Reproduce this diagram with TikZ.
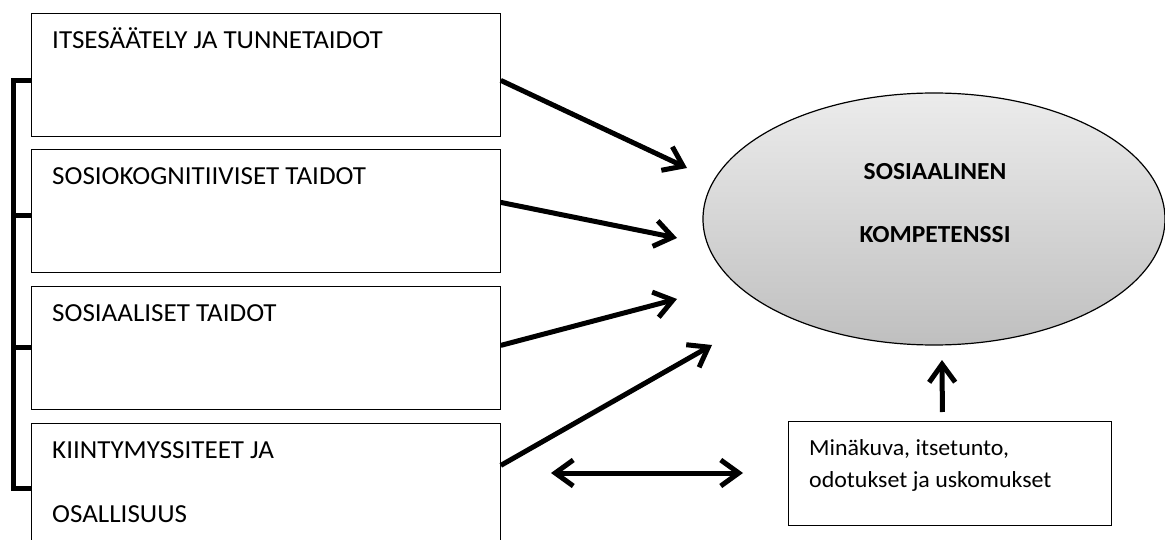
\documentclass[tikz,border=0pt]{standalone}
\usepackage{fontspec}
\setmainfont{Carlito}[FakeStretch=1.04]
\usetikzlibrary{shapes.geometric,arrows.meta}

\begin{document}
\begin{tikzpicture}[x=1pt,y=-1pt]

\tikzstyle{every node}=[font=\fontsize{26}{32}\selectfont]
\tikzstyle{skillbox}=[draw, anchor=north west, minimum width=469, minimum height=123, inner sep=0, line width=0.8]
\tikzstyle{boxtext}=[anchor=base west, inner sep=0]
\tikzstyle{thickarrow}=[->, >={Straight Barb[length=18pt,width=26pt]}, line width=5]

\useasboundingbox (0,0) rectangle (1165,540);

\pgfmathsetmacro\x{31}
\pgfmathsetmacro\y{13}

\node[skillbox] (itse_box) at (\x,\y) {};
\node[boxtext] (itse) at (\x+21,\y+36) {ITSESÄÄTELY JA TUNNETAIDOT};

\pgfmathsetmacro\y{\y+136.5}
\node[skillbox] (sosk_box) at (\x,\y) {};
\node[boxtext] (sosk) at (\x+21,\y+35) {SOSIOKOGNITIIVISET TAIDOT};

\pgfmathsetmacro\y{\y+136.5}
\node[skillbox] (sosi_box) at (\x,\y) {};
\node[boxtext] (sosi) at (\x+21,\y+35) {SOSIAALISET TAIDOT};

\pgfmathsetmacro\y{\y+136.5}
\node[skillbox] (kiin_box) at (\x,\y) {};
\node[boxtext] (kiin) at (\x+21,\y+36) {KIINTYMYSSITEET JA};
\node[boxtext] (osal) at (\x+21,\y+100) {OSALLISUUS};

% bracket on the left
\draw[line width=5] ([yshift=-5.5]itse_box.west) -- ++(-18,0) |- ([yshift=-4]kiin_box.west);
\draw[line width=5] ([yshift=-4]sosk_box.west) -- ++(-18,0);
\draw[line width=5] (sosi_box.west) -- ++(-18,0);

% competence
\node[ellipse, draw, line width=1.2, minimum width=462, minimum height=252, inner sep=0,
      top color=gray!15, bottom color=gray!50] (komp) at (934,219) {};
\node[anchor=base, font=\fontsize{24.5}{32}\selectfont\bfseries] (komp1) at (935,180) {SOSIAALINEN};
\node[anchor=base, font=\fontsize{24.5}{32}\selectfont\bfseries] (komp2) at (935,243) {KOMPETENSSI};

\node[draw, anchor=north west, minimum width=323, minimum height=104, inner sep=0, line width=0.8] (mina_box) at (788,421) {};
\node[boxtext, font=\fontsize{23}{32}\selectfont] (mina1) at (809,455) {Minäkuva, itsetunto,};
\node[boxtext, font=\fontsize{23}{32}\selectfont] (mina2) at (809,487) {odotukset ja uskomukset};

\coordinate (tip_itse) at (687,168);
\coordinate (tip_sosk) at (677,238);
\coordinate (tip_sosi) at (677,299);
\coordinate (tip_kiin) at (712,345);
\coordinate (tip_mina) at (942,360);
\coordinate (dbl_l) at (551,473);
\coordinate (dbl_r) at (743,473);

\draw[thickarrow] ([yshift=-5.5]itse_box.east) -- (tip_itse);
\draw[thickarrow] ([yshift=9]sosk_box.east) -- (tip_sosk);
\draw[thickarrow] ([yshift=2.5]sosi_box.east) -- (tip_sosi);
\draw[thickarrow] ([yshift=19]kiin_box.east) -- (tip_kiin);
\draw[thickarrow] ([xshift=-7.5,yshift=9]mina_box.north) -- (tip_mina);
\draw[thickarrow, <->] (dbl_l) -- (dbl_r);

\end{tikzpicture}
\end{document}
